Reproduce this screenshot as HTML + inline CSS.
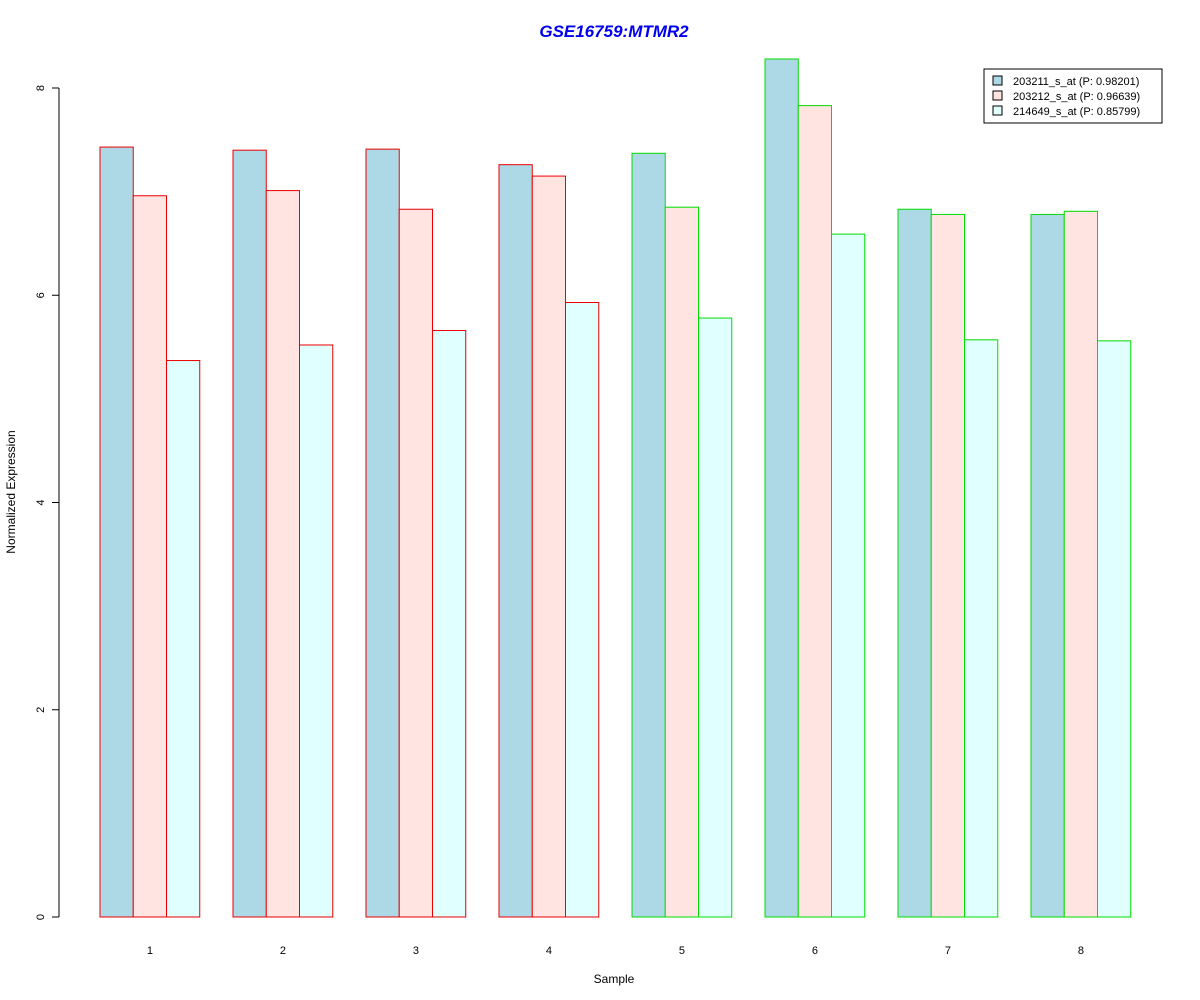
<!DOCTYPE html>
<html><head><meta charset="utf-8"><style>
body{margin:0;background:#fff;}
svg{display:block;font-family:"Liberation Sans",Arial,sans-serif;}
</style></head><body>
<svg id="chart" width="1200" height="1000">
<text x="614" y="37" text-anchor="middle" font-size="17" font-weight="bold" font-style="italic" fill="#0000ee">GSE16759:MTMR2</text>
<text x="614" y="983" text-anchor="middle" font-size="12">Sample</text>
<text transform="translate(15,492) rotate(-90)" text-anchor="middle" font-size="12">Normalized Expression</text>
<g id="yaxis"></g>
<g id="bars"></g>
<g id="xlabels"></g>
<g>
<rect x="984" y="69" width="178" height="54" fill="#fff" stroke="#000" stroke-width="1"/>
<g id="legend-items"></g>
</g>
</svg>
<script>
const categories=["1","2","3","4","5","6","7","8"];
const s1=[7.43,7.40,7.41,7.26,7.37,8.28,6.83,6.78];
const s2=[6.96,7.01,6.83,7.15,6.85,7.83,6.78,6.81];
const s3=[5.37,5.52,5.66,5.93,5.78,6.59,5.57,5.56];
const groupOutline=["red","red","red","red","green","green","green","green"];
const seriesNames=["203211_s_at (P: 0.98201)","203212_s_at (P: 0.96639)","214649_s_at (P: 0.85799)"];
const yTicks=[0,2,4,6,8];
const fills=["#add8e6","#ffe4e1","#e0ffff"];
const strokeCol={red:"#ee0000",green:"#00dd00"};
const NS="http://www.w3.org/2000/svg";
function y(v){return 917-v*103.625;}
function xb(g,s){return 100+g*133+s*33.25;}
const bw=33.25;
const ya=document.getElementById('yaxis');
let l=document.createElementNS(NS,'line');
l.setAttribute('x1',59);l.setAttribute('x2',59);l.setAttribute('y1',y(0));l.setAttribute('y2',y(8));l.setAttribute('stroke','#000');


ya.appendChild(l);
yTicks.forEach(t=>{
 const tk=document.createElementNS(NS,'line');
 tk.setAttribute('x1',52);tk.setAttribute('x2',59);tk.setAttribute('y1',y(t));tk.setAttribute('y2',y(t));tk.setAttribute('stroke','#000');
 
 
 ya.appendChild(tk);
 const tx=document.createElementNS(NS,'text');
 tx.setAttribute('transform',`translate(44,${y(t)}) rotate(-90)`);tx.setAttribute('text-anchor','middle');tx.setAttribute('font-size','11');tx.textContent=t;
 
 
 ya.appendChild(tx);
});
const bars=document.getElementById('bars');
const series=[s1,s2,s3];
categories.forEach((c,g)=>{
 series.forEach((arr,s)=>{
  const r=document.createElementNS(NS,'rect');
  r.setAttribute('x',xb(g,s));r.setAttribute('width',bw);
  r.setAttribute('y',y(arr[g]));r.setAttribute('height',y(0)-y(arr[g]));
  r.setAttribute('fill',fills[s]);r.setAttribute('stroke',strokeCol[groupOutline[g]]);r.setAttribute('stroke-width','1');
  
  
  bars.appendChild(r);
 });
 const tx=document.createElementNS(NS,'text');
 tx.setAttribute('x',xb(g,1.5));tx.setAttribute('y',954);tx.setAttribute('text-anchor','middle');tx.setAttribute('font-size','11');tx.textContent=c;
 
 
 document.getElementById('xlabels').appendChild(tx);
});
const li=document.getElementById('legend-items');
seriesNames.forEach((n,i)=>{
 const r=document.createElementNS(NS,'rect');
 r.setAttribute('x',993);r.setAttribute('y',76+i*15);r.setAttribute('width',9);r.setAttribute('height',9);
 r.setAttribute('fill',fills[i]);r.setAttribute('stroke','#000');
 
 
 li.appendChild(r);
 const t=document.createElementNS(NS,'text');
 t.setAttribute('x',1013);t.setAttribute('y',85+i*15);t.setAttribute('font-size','11');t.textContent=n;
 
 
 li.appendChild(t);
});
</script>
</body></html>
